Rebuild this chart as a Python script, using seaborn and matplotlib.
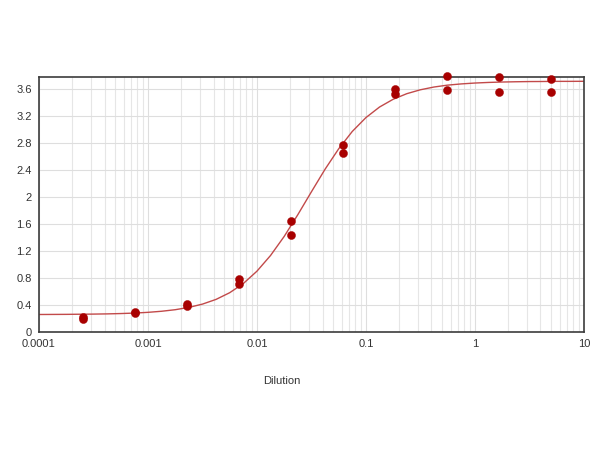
import matplotlib
matplotlib.use("Agg")
import matplotlib.pyplot as plt
import seaborn as sns
import pandas as pd
import numpy as np
from matplotlib.ticker import LogLocator, FixedLocator, NullFormatter

# ---- data ----
dilution = [0.000254, 0.000762, 0.00229, 0.00686, 0.0206, 0.0617, 0.185, 0.556, 1.667, 5.0]
od_rep1 = [0.23, 0.30, 0.41, 0.79, 1.64, 2.78, 3.61, 3.80, 3.79, 3.75]
od_rep2 = [0.20, 0.28, 0.39, 0.72, 1.44, 2.66, 3.53, 3.59, 3.56, 3.56]

# fitted curve at 1/8-decade steps
curve_log10x = [-4.0, -3.875, -3.75, -3.625, -3.5, -3.375, -3.25, -3.125, -3.0, -2.875,
                -2.75, -2.625, -2.5, -2.375, -2.25, -2.125, -2.0, -1.875, -1.75, -1.625,
                -1.5, -1.375, -1.25, -1.125, -1.0, -0.875, -0.75, -0.625, -0.5, -0.375,
                -0.25, -0.125, 0.0, 0.125, 0.25, 0.375, 0.5, 0.625, 0.75, 0.875, 1.0]
curve_y = [0.261, 0.262, 0.263, 0.265, 0.267, 0.270, 0.275, 0.282, 0.293, 0.309,
           0.332, 0.366, 0.415, 0.485, 0.584, 0.720, 0.903, 1.136, 1.418, 1.740,
           2.080, 2.414, 2.717, 2.975, 3.180, 3.337, 3.452, 3.535, 3.593, 3.634,
           3.662, 3.680, 3.693, 3.702, 3.708, 3.712, 3.715, 3.716, 3.718, 3.718, 3.719]

y_ticks = [0, 0.4, 0.8, 1.2, 1.6, 2.0, 2.4, 2.8, 3.2, 3.6]
y_tick_labels = ["0", "0.4", "0.8", "1.2", "1.6", "2", "2.4", "2.8", "3.2", "3.6"]
x_ticks = [0.0001, 0.001, 0.01, 0.1, 1, 10]
x_tick_labels = ["0.0001", "0.001", "0.01", "0.1", "1", "10"]
x_label = "Dilution"

points = pd.DataFrame({
    "dilution": dilution + dilution,
    "od": od_rep1 + od_rep2,
})
curve = pd.DataFrame({"x": [10 ** v for v in curve_log10x], "y": curve_y})

sns.set_style("white")
plt.rcParams["font.family"] = ["Liberation Sans", "DejaVu Sans"]

fig = plt.figure(figsize=(6, 4.5), dpi=100)
ax = fig.add_axes([0.065, 0.262, 0.908, 0.568])

ax.set_xscale("log")
ax.set_xlim(0.0001, 10)
ax.set_ylim(0, 3.79)

ax.xaxis.set_major_locator(FixedLocator(x_ticks))
ax.xaxis.set_minor_locator(LogLocator(base=10, subs=np.arange(2, 10), numticks=100))
ax.xaxis.set_minor_formatter(NullFormatter())
ax.set_xticks(x_ticks)
ax.set_xticklabels(x_tick_labels)
ax.set_yticks(y_ticks)
ax.set_yticklabels(y_tick_labels)

ax.grid(True, which="major", color="#dedede", linewidth=0.8)
ax.grid(True, which="minor", axis="x", color="#e6e6e6", linewidth=0.8)
ax.set_axisbelow(True)

sns.lineplot(data=curve, x="x", y="y", ax=ax, color="#c24a4a", linewidth=1.0,
             estimator=None, sort=False)
sns.scatterplot(data=points, x="dilution", y="od", ax=ax, color="#a80000",
                s=34, edgecolor="#a80000", linewidth=0.3, zorder=5, clip_on=False)

ax.set_xlabel("")
ax.set_ylabel("")
ax.tick_params(axis="both", which="both", length=0, labelsize=8, colors="#333333")
ax.tick_params(axis="x", pad=5)
ax.tick_params(axis="y", pad=5)

for sp in ax.spines.values():
    sp.set_visible(True)
    sp.set_color("#3c3c3c")
    sp.set_linewidth(1.2)

fig.text(0.47, 0.153, x_label, ha="center", va="center", fontsize=8, color="#333333")

fig.savefig("out.png", dpi=100, facecolor="white")
